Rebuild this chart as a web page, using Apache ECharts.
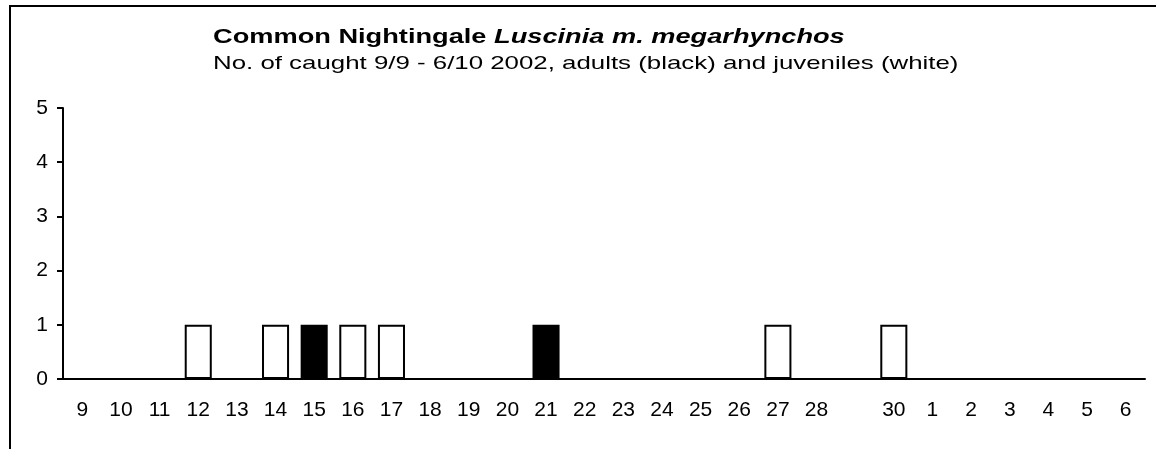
<!DOCTYPE html>
<html>
<head>
<meta charset="utf-8">
<script src="https://cdn.jsdelivr.net/npm/echarts@6/dist/echarts.min.js"></script>
<style>
	body { margin: 0; background: #fff; }
	#main { width: 1156px; height: 449px; }
	#frame { position: absolute; left: 9px; top: 5px; width: 1160px; height: 460px;
		border-top: 2px solid #000; border-left: 2px solid #000; pointer-events: none; }
</style>
</head>
<body>
<div id="main"></div>
<div id="frame"></div>
<script>
// days 9/9 - 6/10 (29 has no label in the original)
var days = ['9', '10', '11', '12', '13', '14', '15', '16', '17', '18', '19', '20', '21', '22',
	'23', '24', '25', '26', '27', '28', '', '30', '1', '2', '3', '4', '5', '6'];
var adults = [0, 0, 0, 0, 0, 0, 1, 0, 0, 0, 0, 0, 1, 0, 0, 0, 0, 0, 0, 0, 0, 0, 0, 0, 0, 0, 0, 0];
var juveniles = [0, 0, 0, 1, 0, 1, 0, 1, 1, 0, 0, 0, 0, 0, 0, 0, 0, 0, 1, 0, 0, 1, 0, 0, 0, 0, 0, 0];
var yTicks = [0, 1, 2, 3, 4, 5];

drawChart('main');

// zero counts are not drawn as bars
function noZero(list) {
	return list.map(function (v) { return v === 0 ? '-' : v; });
}

function drawChart(showAreaId) {
	var myChart = echarts.init(document.getElementById(showAreaId));
	var font = 'Liberation Sans, Arial, sans-serif';
	var option = {
		animation: false,
		textStyle: { fontFamily: font },
		// title texts are stretched wide in the original
		graphic: [
			{
				type: 'text',
				x: 213,
				y: 27,
				scaleX: 1.36,
				style: {
					text: '{b|Common Nightingale }{bi|Luscinia m. megarhynchos}',
					rich: {
						b: { fontFamily: font, fontSize: 20, fontWeight: 'bold', fill: '#000' },
						bi: { fontFamily: font, fontSize: 20, fontWeight: 'bold', fontStyle: 'italic', fill: '#000' }
					}
				}
			},
			{
				type: 'text',
				x: 213,
				y: 54,
				scaleX: 1.36,
				style: {
					text: 'No. of caught 9/9 - 6/10 2002, adults (black) and juveniles (white)',
					fontFamily: font,
					fontSize: 19,
					fill: '#000'
				}
			}
		],
		grid: { left: 63, right: 11, top: 108, bottom: 70 },
		xAxis: {
			type: 'category',
			data: days,
			axisLine: { lineStyle: { color: '#000', width: 2 } },
			axisTick: { length: 6, lineStyle: { color: '#000', width: 2 } },
			axisLabel: { color: '#000', fontSize: 21, margin: 21, interval: 0, fontFamily: font },
			splitLine: { show: false }
		},
		yAxis: {
			type: 'value',
			min: yTicks[0],
			max: yTicks[yTicks.length - 1],
			interval: 1,
			axisLine: { show: true, lineStyle: { color: '#000', width: 2 } },
			axisTick: { show: true, length: 6, lineStyle: { color: '#000', width: 2 } },
			axisLabel: { color: '#000', fontSize: 21, margin: 15, fontFamily: font },
			splitLine: { show: false }
		},
		series: [
			{
				name: 'adults',
				type: 'bar',
				stack: 'n',
				barWidth: '70%',
				data: noZero(adults),
				itemStyle: { color: '#000', borderColor: '#000', borderWidth: 2 }
			},
			{
				name: 'juveniles',
				type: 'bar',
				stack: 'n',
				barWidth: '70%',
				data: noZero(juveniles),
				itemStyle: { color: '#fff', borderColor: '#000', borderWidth: 2 }
			}
		]
	};
	myChart.setOption(option);
}
</script>
</body>
</html>
